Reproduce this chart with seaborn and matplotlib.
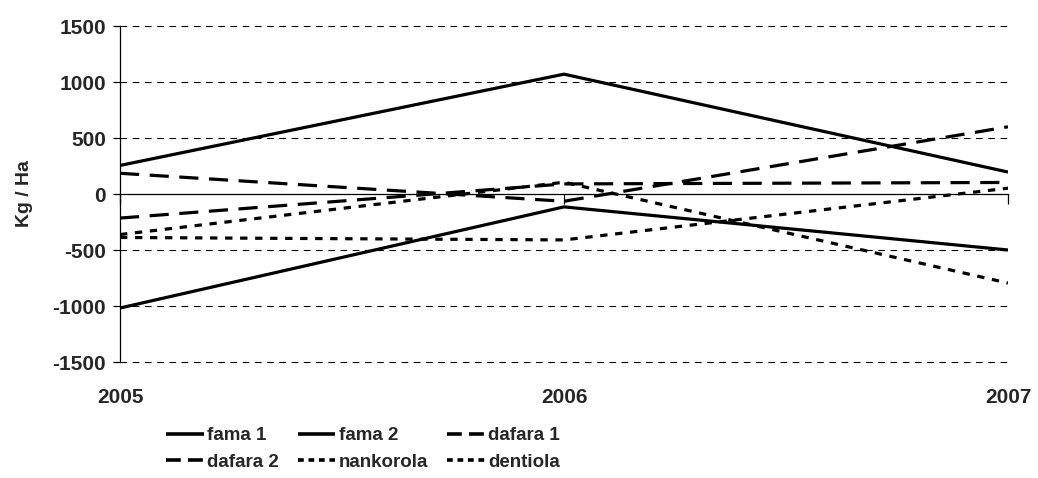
import numpy as np
import pandas as pd
import matplotlib
matplotlib.use("Agg")
import matplotlib.pyplot as plt
import seaborn as sns

# ---- data ----
years = [2005, 2006, 2007]
series_names = ["fama 1", "fama 2", "dafara 1", "dafara 2", "nankorola", "dentiola"]
fama_1 = [255, 1070, 196]
fama_2 = [-1018, -115, -500]
dafara_1 = [185, -65, 600]
dafara_2 = [-215, 90, 103]
nankorola = [-362, 105, -795]
dentiola = [-388, -410, 52]
y_ticks = [-1500, -1000, -500, 0, 500, 1000, 1500]
y_label = "Kg / Ha"

values = [fama_1, fama_2, dafara_1, dafara_2, nankorola, dentiola]
rows = []
for name, vals in zip(series_names, values):
    for yr, v in zip(years, vals):
        rows.append({"year": yr, "value": v, "series": name})
df = pd.DataFrame(rows)

sns.set_theme(style="white")
plt.rcParams["font.family"] = ["Liberation Sans", "DejaVu Sans"]

fig = plt.figure(figsize=(10.38, 4.78), dpi=100)
ax = fig.add_axes([120 / 1038, 1 - 362 / 478, (1008 - 120) / 1038, (362 - 26) / 478])

solid = (1, 0)
dash = (6, 3.3)
dot = (2.3, 2.4)
dashes = {"fama 1": solid, "fama 2": solid, "dafara 1": dash, "dafara 2": dash,
          "nankorola": dot, "dentiola": dot}

sns.lineplot(data=df, x="year", y="value", hue="series", style="series",
             hue_order=series_names, style_order=series_names,
             palette=["black"] * len(series_names), dashes=dashes,
             linewidth=2.3, ax=ax, legend=True, estimator=None)

ax.set_xlim(years[0], years[-1])
ax.set_ylim(y_ticks[0], y_ticks[-1])
ax.set_yticks(y_ticks)
ax.set_yticklabels([str(t) for t in y_ticks], fontsize=15, fontweight="bold")

for t in y_ticks:
    if t != 0:
        ax.axhline(t, color="black", lw=0.8, ls=(0, (6, 5)), zorder=0, clip_on=False)

for s in ["top", "right"]:
    ax.spines[s].set_visible(False)
ax.spines["left"].set_color("black")
ax.spines["left"].set_linewidth(0.9)
ax.spines["bottom"].set_position(("data", 0))
ax.spines["bottom"].set_color("black")
ax.spines["bottom"].set_linewidth(0.9)

ax.set_xticks(years)
ax.tick_params(axis="x", direction="out", length=7, width=0.9, color="black",
               labelbottom=False, bottom=True)
ax.tick_params(axis="y", direction="out", length=5, width=0.9, color="black", left=True, pad=5)

sec = ax.secondary_xaxis("bottom")
sec.set_xticks(years)
sec.set_xticklabels([str(y) for y in years], fontsize=15, fontweight="bold")
sec.tick_params(length=0, pad=19)
sec.spines["bottom"].set_visible(False)

ax.set_xlabel("")
ax.set_ylabel(y_label, fontsize=14, fontweight="bold", labelpad=14)

handles, labels = ax.get_legend_handles_labels()
ax.get_legend().remove()
# row-major ordering for a 3-column legend
order = [0, 3, 1, 4, 2, 5]
handles = [handles[i] for i in order]
labels = [labels[i] for i in order]
leg = fig.legend(handles, labels, loc="upper left", bbox_to_anchor=(166 / 1038, 1 - 427 / 478),
                 ncol=3, frameon=False, handlelength=2.0, handletextpad=0.2,
                 columnspacing=1.0, labelspacing=0.5, borderpad=0, borderaxespad=0,
                 prop={"weight": "bold", "size": 13.5})
legend_dashes = {"dafara 1": (4.1, 2.0), "dafara 2": (4.1, 2.0),
                 "nankorola": (1.6, 1.3), "dentiola": (1.6, 1.3)}
for h, lab in zip(leg.get_lines(), labels):
    h.set_linewidth(2.6)
    if lab in legend_dashes:
        h.set_linestyle((0, legend_dashes[lab]))

fig.savefig("out.png", dpi=100)
